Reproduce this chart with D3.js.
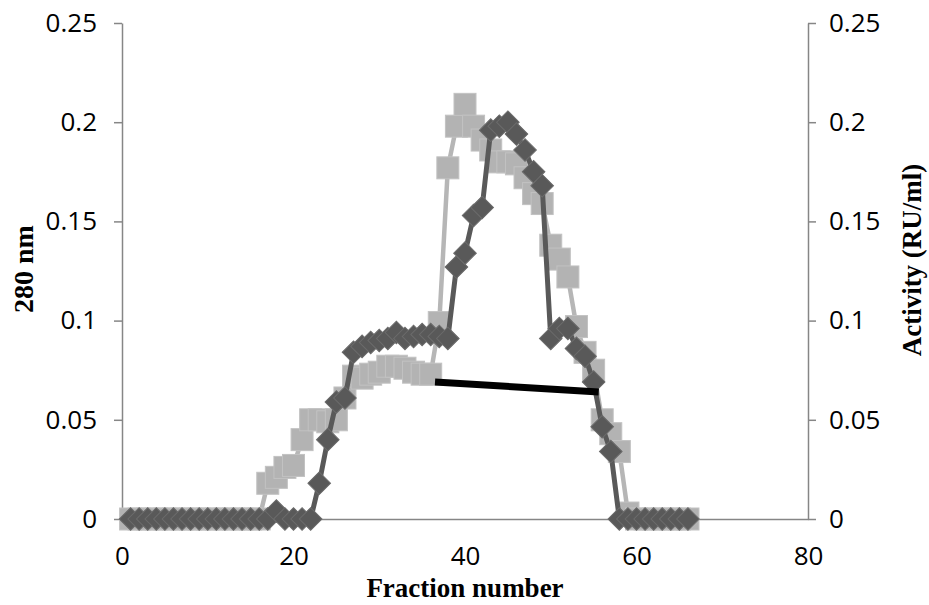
<!DOCTYPE html>
<html>
<head>
<meta charset="utf-8">
<script src="https://cdn.jsdelivr.net/npm/d3@7"></script>
<style>
  html, body { margin: 0; padding: 0; background: #fff; }
  svg text { font-family: "Open Sans", sans-serif; }
  .title { font-family: "Liberation Serif", "Times New Roman", serif; font-weight: bold; }
</style>
</head>
<body>
<div id="chart"></div>
<script>
// fraction numbers 1..66
var fractions = d3.range(1, 67);

// absorbance at 280 nm (light squares)
var a280 = [
  0, 0, 0, 0, 0, 0, 0, 0, 0, 0,
  0, 0, 0, 0, 0, 0, 0.018, 0.021, 0.026, 0.027,
  0.040, 0.050, 0.050, 0.049, 0.050, 0.061, 0.072, 0.071, 0.073, 0.074,
  0.077, 0.077, 0.076, 0.074, 0.073, 0.073, 0.099, 0.177, 0.198, 0.209,
  0.198, 0.191, 0.186, 0.180, 0.180, 0.179, 0.172, 0.164, 0.159, 0.138,
  0.131, 0.122, 0.097, 0.084, 0.075, 0.050, 0.043, 0.034, 0.003, 0,
  0, 0, 0, 0, 0, 0
];

// activity RU/ml (dark diamonds)
var activity = [
  0, 0, 0, 0, 0, 0, 0, 0, 0, 0,
  0, 0, 0, 0, 0, 0, 0, 0.004, 0, 0,
  0, 0, 0.018, 0.040, 0.059, 0.061, 0.084, 0.087, 0.089, 0.090,
  0.091, 0.094, 0.091, 0.092, 0.093, 0.093, 0.092, 0.091, 0.127, 0.134,
  0.153, 0.157, 0.196, 0.198, 0.200, 0.194, 0.186, 0.175, 0.168, 0.091,
  0.096, 0.096, 0.086, 0.082, 0.069, 0.0465, 0.034, 0, 0, 0,
  0, 0, 0, 0, 0, 0
];

// black straight segment
var segX = [36.5, 55.6];
var segY = [0.0691, 0.0640];

var xTicks = [0, 20, 40, 60, 80];
var yTicks = [0, 0.05, 0.1, 0.15, 0.2, 0.25];
var yTickLabels = ["0", "0.05", "0.1", "0.15", "0.2", "0.25"];

var W = 929, H = 605;
var L = 122, R = 808, T = 23, B = 519;
var axisColor = "#868686";

var svg = d3.select("#chart").append("svg").attr("width", W).attr("height", H);

var x = d3.scaleLinear().domain([0, 80]).range([L, R]);
var y = d3.scaleLinear().domain([0, 0.25]).range([B, T]);

function styleAxis(g) {
  g.select(".domain").attr("stroke", axisColor).attr("stroke-width", 1.5);
  g.selectAll(".tick line").attr("stroke", axisColor).attr("stroke-width", 1.5);
  g.selectAll(".tick text").attr("fill", "#000").style("font-size", "26px");
}

var fmt = function (d) { return yTickLabels[yTicks.indexOf(d)]; };

svg.append("g").attr("transform", "translate(" + L + ",0)")
  .call(d3.axisLeft(y).tickValues(yTicks).tickFormat(fmt).tickSize(8).tickSizeOuter(0).tickPadding(17))
  .call(styleAxis);

svg.append("g").attr("transform", "translate(" + R + ",0)")
  .call(d3.axisRight(y).tickValues(yTicks).tickFormat(fmt).tickSize(8).tickSizeOuter(0).tickPadding(13))
  .call(styleAxis);

svg.append("g").attr("transform", "translate(0," + B + ")")
  .call(d3.axisBottom(x).tickValues(xTicks).tickSize(0).tickSizeOuter(0).tickPadding(28))
  .call(styleAxis);

var line = function (vals) {
  return d3.line().x(function (d, i) { return x(fractions[i]); }).y(function (d) { return y(d); })(vals);
};

// light squares series
svg.append("path").attr("d", line(a280))
  .attr("fill", "none").attr("stroke", "#b6b6b6").attr("stroke-width", 4.5).attr("stroke-linejoin", "round");
svg.append("g").selectAll("rect").data(a280).enter().append("rect")
  .attr("x", function (d, i) { return x(fractions[i]) - 11; })
  .attr("y", function (d) { return y(d) - 11; })
  .attr("width", 22).attr("height", 22)
  .attr("fill", "#b3b3b3").attr("stroke", "#c2c2c2").attr("stroke-width", 1);

// dark diamonds series
svg.append("path").attr("d", line(activity))
  .attr("fill", "none").attr("stroke", "#595959").attr("stroke-width", 5).attr("stroke-linejoin", "round");
svg.append("g").selectAll("rect").data(activity).enter().append("rect")
  .attr("x", -8).attr("y", -8).attr("width", 16).attr("height", 16)
  .attr("transform", function (d, i) { return "translate(" + x(fractions[i]) + "," + y(d) + ") rotate(45)"; })
  .attr("fill", "#595959").attr("stroke", "#6b6b6b").attr("stroke-width", 1);

// black segment
svg.append("line")
  .attr("x1", x(segX[0])).attr("y1", y(segY[0]))
  .attr("x2", x(segX[1])).attr("y2", y(segY[1]))
  .attr("stroke", "#000").attr("stroke-width", 7);

// axis titles
svg.append("text").attr("class", "title")
  .attr("x", (L + R) / 2).attr("y", 597).attr("text-anchor", "middle")
  .style("font-size", "27px").text("Fraction number");

svg.append("text").attr("class", "title")
  .attr("transform", "translate(33," + 269 + ") rotate(-90)").attr("text-anchor", "middle")
  .style("font-size", "28px").text("280 nm");

svg.append("text").attr("class", "title")
  .attr("transform", "translate(921," + 260 + ") rotate(-90)").attr("text-anchor", "middle")
  .style("font-size", "27px").text("Activity (RU/ml)");
</script>
</body>
</html>
